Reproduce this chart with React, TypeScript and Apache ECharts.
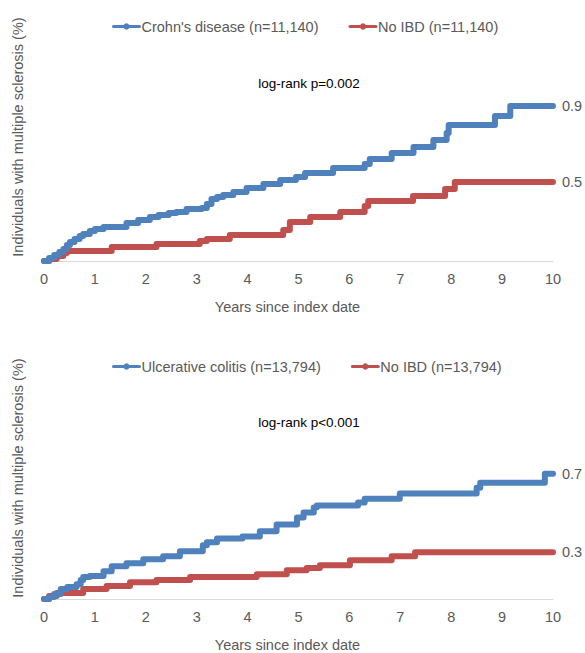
import React, { useEffect, useRef } from "react";
import * as echarts from "echarts";

// Top panel: Crohn's disease vs matched controls
const cdTimes = [0, 0.1, 0.2, 0.3, 0.38, 0.45, 0.51, 0.6, 0.7, 0.77, 0.9, 1.0, 1.17, 1.62, 1.85, 2.08, 2.25, 2.45, 2.6, 2.8, 3.1, 3.2, 3.29, 3.4, 3.52, 3.72, 3.98, 4.31, 4.64, 4.95, 5.13, 5.68, 6.3, 6.4, 6.83, 7.26, 7.65, 7.91, 7.95, 8.86, 9.16, 10];
const cdValues = [0, 0.015, 0.031, 0.046, 0.061, 0.081, 0.097, 0.112, 0.127, 0.137, 0.153, 0.163, 0.173, 0.193, 0.208, 0.224, 0.234, 0.244, 0.249, 0.264, 0.269, 0.29, 0.315, 0.325, 0.336, 0.351, 0.371, 0.391, 0.412, 0.427, 0.447, 0.473, 0.493, 0.519, 0.549, 0.58, 0.615, 0.651, 0.691, 0.737, 0.788, 0.788];
const cdCtrlTimes = [0, 0.1, 0.25, 0.38, 0.45, 1.33, 2.21, 3.06, 3.2, 3.65, 4.7, 4.83, 5.23, 5.82, 6.3, 6.37, 7.25, 7.88, 8.07, 10];
const cdCtrlValues = [0, 0.01, 0.025, 0.041, 0.051, 0.071, 0.086, 0.102, 0.112, 0.132, 0.158, 0.198, 0.224, 0.249, 0.28, 0.305, 0.331, 0.366, 0.402, 0.402];

// Bottom panel: Ulcerative colitis vs matched controls
const ucTimes = [0, 0.1, 0.2, 0.33, 0.46, 0.64, 0.72, 0.77, 0.9, 1.17, 1.33, 1.62, 1.95, 2.34, 2.67, 3.12, 3.2, 3.4, 3.9, 4.24, 4.57, 4.97, 5.1, 5.3, 5.36, 6.17, 6.3, 6.99, 8.5, 8.57, 9.84, 10];
const ucValues = [0, 0.01, 0.025, 0.051, 0.061, 0.076, 0.097, 0.112, 0.117, 0.142, 0.168, 0.183, 0.203, 0.219, 0.244, 0.275, 0.29, 0.31, 0.32, 0.346, 0.381, 0.417, 0.442, 0.468, 0.478, 0.493, 0.513, 0.539, 0.569, 0.595, 0.641, 0.641];
const ucCtrlTimes = [0, 0.1, 0.25, 0.77, 1.23, 1.69, 2.21, 2.87, 4.18, 4.77, 5.16, 5.42, 6.01, 6.83, 7.29, 10];
const ucCtrlValues = [0, 0.015, 0.031, 0.051, 0.066, 0.086, 0.097, 0.112, 0.127, 0.147, 0.158, 0.173, 0.198, 0.219, 0.239, 0.239];

const seriesNames = [
  "Crohn's disease (n=11,140)",
  "No IBD (n=11,140)",
  "Ulcerative colitis (n=13,794)",
  "No IBD (n=13,794)",
];
const endLabels = ["0.9", "0.5", "0.7", "0.3"];
const pValues = ["log-rank p=0.002", "log-rank p<0.001"];
const xTitle = "Years since index date";
const yTitle = "Individuals with multiple sclerosis (%)";

const BLUE = "#4f81bd";
const RED = "#c0504d";
const GRAY = "#595959";
const FONT = "'Liberation Sans', Arial, sans-serif";

const zip = (t: number[], v: number[]) => t.map((x, i) => [x, v[i]]);

export default function App() {
  const ref = useRef<HTMLDivElement>(null);
  useEffect(() => {
    document.body.style.margin = "0";
    const chart = echarts.init(ref.current!, null, { renderer: "svg" });
    const mkX = (gridIndex: number) => ({
      type: "value",
      gridIndex,
      min: 0,
      max: 10,
      interval: 1,
      axisLine: { show: true, lineStyle: { color: "#d9d9d9", width: 1 } },
      axisTick: { show: false },
      splitLine: { show: false },
      axisLabel: { color: GRAY, fontSize: 14.5, fontFamily: FONT, margin: 10 },
      name: xTitle,
      nameLocation: "middle",
      nameGap: 38,
      nameTextStyle: { color: GRAY, fontSize: 14.5, fontFamily: FONT, padding: [0, 22, 0, 0] },
    });
    const mkY = (gridIndex: number) => ({
      type: "value",
      gridIndex,
      min: 0,
      max: 0.9,
      show: false,
    });
    const mkSeries = (i: number, data: number[][], color: string, idx: number) => ({
      type: "line",
      name: seriesNames[i],
      xAxisIndex: idx,
      yAxisIndex: idx,
      data,
      step: "end",
      symbol: "circle",
      symbolSize: 5,
      showSymbol: false,
      color,
      lineStyle: { color, width: 6, cap: "round", join: "round" },
      endLabel: {
        show: true,
        formatter: () => endLabels[i],
        color: GRAY,
        fontSize: 14.5,
        fontFamily: FONT,
        distance: 9,
      },
      z: i % 2 === 0 ? 3 : 2,
    });
    const mkLegend = (top: number, names: string[]) => ({
      top,
      left: 107,
      itemGap: 30,
      itemWidth: 26,
      itemHeight: 8,
      lineStyle: { width: 3 },
      textStyle: { color: GRAY, fontSize: 14.5, fontFamily: FONT, padding: [0, 0, 0, -3] },
      data: names,
    });
    chart.setOption({
      animation: false,
      backgroundColor: "#ffffff",
      grid: [
        { left: 44, width: 509, top: 84, height: 177 },
        { left: 44, width: 509, top: 423, height: 177 },
      ],
      xAxis: [mkX(0), mkX(1)],
      yAxis: [mkY(0), mkY(1)],
      legend: [mkLegend(14, [seriesNames[0], seriesNames[1]]), mkLegend(354, [seriesNames[2], seriesNames[3]])],
      title: [
        { text: pValues[0], left: 304, top: 71, textAlign: "center", textStyle: { color: "#000", fontSize: 13.5, fontWeight: "normal", fontFamily: FONT } },
        { text: pValues[1], left: 304, top: 410, textAlign: "center", textStyle: { color: "#000", fontSize: 13.5, fontWeight: "normal", fontFamily: FONT } },
      ],
      graphic: [
        { type: "text", x: 18, y: 137, rotation: Math.PI / 2, style: { text: yTitle, fill: GRAY, font: `14.5px ${FONT}`, align: "center", verticalAlign: "middle" } },
        { type: "text", x: 18, y: 478, rotation: Math.PI / 2, style: { text: yTitle, fill: GRAY, font: `14.5px ${FONT}`, align: "center", verticalAlign: "middle" } },
      ],
      series: [
        mkSeries(0, zip(cdTimes, cdValues), BLUE, 0),
        mkSeries(1, zip(cdCtrlTimes, cdCtrlValues), RED, 0),
        mkSeries(2, zip(ucTimes, ucValues), BLUE, 1),
        mkSeries(3, zip(ucCtrlTimes, ucCtrlValues), RED, 1),
      ],
    });
    return () => chart.dispose();
  }, []);
  return <div ref={ref} style={{ width: 585, height: 653 }} />;
}
